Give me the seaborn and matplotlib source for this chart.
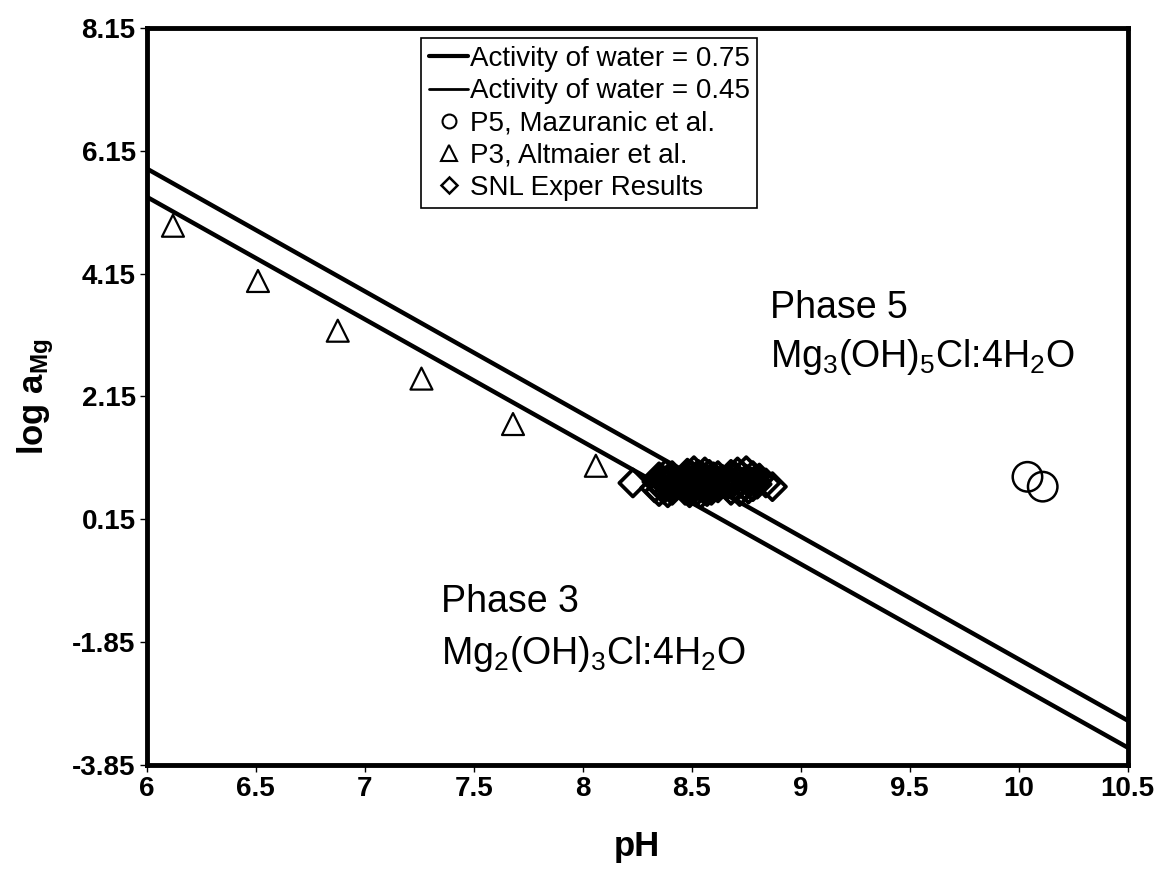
import numpy as np
import pandas as pd
import matplotlib
matplotlib.use("Agg")
import matplotlib.pyplot as plt
import seaborn as sns
from matplotlib.lines import Line2D

# ---- data ----
ph_line = [6.0, 10.5]
aw045_line = [5.86, -3.13]
aw075_line = [5.40, -3.57]

p5_ph = [10.04, 10.11]
p5_log = [0.84, 0.68]

p3_ph = [6.12, 6.51, 6.876, 7.26, 7.68, 8.06]
p3_log = [4.93, 4.03, 3.22, 2.44, 1.70, 1.02]

snl_ph = [8.23,
          8.33, 8.34, 8.35, 8.35, 8.36, 8.37, 8.37, 8.38, 8.38, 8.39,
          8.39, 8.40, 8.40, 8.41, 8.41, 8.42, 8.43,
          8.46, 8.47, 8.47, 8.48, 8.48, 8.49, 8.49, 8.50, 8.50, 8.51,
          8.51, 8.52, 8.52, 8.53, 8.53, 8.54, 8.54, 8.55, 8.55, 8.56,
          8.56, 8.57, 8.57, 8.58, 8.58, 8.59, 8.59, 8.60, 8.60, 8.61,
          8.62, 8.62, 8.63, 8.64, 8.52, 8.55, 8.58,
          8.66, 8.67, 8.68, 8.68, 8.69, 8.70, 8.70, 8.71, 8.72, 8.72,
          8.73, 8.74, 8.75, 8.75, 8.76, 8.77, 8.78, 8.78, 8.79, 8.80,
          8.81, 8.84, 8.87]
snl_log = [0.74,
           0.66, 0.76, 0.60, 0.84, 0.70, 0.78, 0.64, 0.88, 0.72, 0.58,
           0.80, 0.68, 0.76, 0.86, 0.62, 0.74, 0.70,
           0.72, 0.82, 0.62, 0.90, 0.70, 0.78, 0.58, 0.86, 0.66, 0.74,
           0.94, 0.60, 0.82, 0.70, 0.88, 0.56, 0.76, 0.66, 0.84, 0.92,
           0.72, 0.60, 0.80, 0.68, 0.88, 0.76, 0.62, 0.84, 0.70, 0.78,
           0.66, 0.86, 0.74, 0.80, 0.73, 0.77, 0.72,
           0.70, 0.80, 0.62, 0.88, 0.74, 0.84, 0.66, 0.92, 0.76, 0.60,
           0.86, 0.70, 0.80, 0.94, 0.64, 0.76, 0.86, 0.68, 0.78, 0.72,
           0.82, 0.74, 0.68]

xticks = [6, 6.5, 7, 7.5, 8, 8.5, 9, 9.5, 10, 10.5]
xticklabels = ["6", "6.5", "7", "7.5", "8", "8.5", "9", "9.5", "10", "10.5"]
yticks = [8.15, 6.15, 4.15, 2.15, 0.15, -1.85, -3.85]
yticklabels = ["8.15", "6.15", "4.15", "2.15", "0.15", "-1.85", "-3.85"]

sns.set_theme(style="white")
plt.rcParams['font.family'] = ['Liberation Sans', 'DejaVu Sans']
plt.rcParams['mathtext.fontset'] = 'custom'
plt.rcParams['mathtext.rm'] = 'Liberation Sans'
plt.rcParams['mathtext.it'] = 'Liberation Sans'
plt.rcParams['mathtext.bf'] = 'Liberation Sans:bold'
plt.rcParams['text.color'] = 'black'
plt.rcParams['axes.labelcolor'] = 'black'
plt.rcParams['xtick.color'] = 'black'
plt.rcParams['ytick.color'] = 'black'

fig = plt.figure(figsize=(11.65, 8.77), dpi=100)
ax = fig.add_axes([0.126, 0.128, 0.842, 0.840])

df045 = pd.DataFrame({"pH": ph_line, "log": aw045_line})
df075 = pd.DataFrame({"pH": ph_line, "log": aw075_line})
sns.lineplot(data=df075, x="pH", y="log", ax=ax, color="black", lw=3.2)
sns.lineplot(data=df045, x="pH", y="log", ax=ax, color="black", lw=3.2)

sns.scatterplot(x=snl_ph, y=snl_log, ax=ax, marker="D", s=190,
                facecolor="none", edgecolor="black", linewidth=2.7, zorder=3)
sns.scatterplot(x=p3_ph, y=p3_log, ax=ax, marker="^", s=250,
                facecolor="none", edgecolor="black", linewidth=1.6, zorder=3)
sns.scatterplot(x=p5_ph, y=p5_log, ax=ax, marker="o", s=450,
                facecolor="none", edgecolor="black", linewidth=1.8, zorder=3)

ax.set_xlim(6, 10.5)
ax.set_ylim(-3.85, 8.15)
ax.set_xticks(xticks)
ax.set_xticklabels(xticklabels)
ax.set_yticks(yticks)
ax.set_yticklabels(yticklabels)
ax.tick_params(axis="both", labelsize=20, direction="out", length=5, width=1,
               color="black", labelcolor="black", bottom=True, left=True, pad=3)
for lab in ax.get_xticklabels() + ax.get_yticklabels():
    lab.set_fontweight("bold")
for s in ax.spines.values():
    s.set_color("black")
    s.set_linewidth(3.5)

ax.set_xlabel("pH", fontsize=25, fontweight="bold", labelpad=20, color="black")
ax.set_ylabel(r"log a$_{\mathbf{Mg}}$", fontsize=25, fontweight="bold", labelpad=12,
              color="black")

fs_txt = 27
ax.text(8.86, 3.43, "Phase 5", fontsize=fs_txt, ha="left", va="baseline", color="black")
ax.text(8.86, 2.63, r"Mg$_3$(OH)$_5$Cl:4H$_2$O", fontsize=fs_txt, ha="left",
        va="baseline", color="black")
ax.text(7.35, -1.36, "Phase 3", fontsize=fs_txt, ha="left", va="baseline", color="black")
ax.text(7.35, -2.21, r"Mg$_2$(OH)$_3$Cl:4H$_2$O", fontsize=fs_txt, ha="left",
        va="baseline", color="black")

handles = [
    Line2D([], [], color="black", lw=3),
    Line2D([], [], color="black", lw=2),
    Line2D([], [], color="black", marker="o", ls="none", ms=10, mfc="none", mew=1.5),
    Line2D([], [], color="black", marker="^", ls="none", ms=11, mfc="none", mew=1.5),
    Line2D([], [], color="black", marker="D", ls="none", ms=8, mfc="none", mew=1.8),
]
labels = ["Activity of water = 0.75", "Activity of water = 0.45",
          "P5, Mazuranic et al.", "P3, Altmaier et al.", "SNL Exper Results"]
leg = ax.legend(handles, labels, loc="upper left", bbox_to_anchor=(0.280, 0.986),
                fontsize=20, frameon=True, fancybox=False, framealpha=1,
                edgecolor="black", borderpad=0.28, labelspacing=0.22,
                handlelength=1.4, handletextpad=0.05, borderaxespad=0,
                labelcolor="black")
leg.get_frame().set_linewidth(1.2)

fig.savefig("out.png", dpi=100)
